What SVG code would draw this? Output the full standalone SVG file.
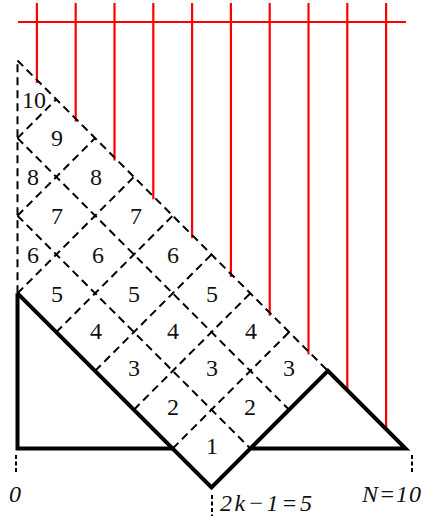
<svg xmlns="http://www.w3.org/2000/svg" width="422" height="516" viewBox="0 0 422 516">
<style>
.red{stroke:#ff0000;stroke-width:2.2;fill:none}
.dash{stroke:#000;stroke-width:2;stroke-dasharray:8 5;fill:none}
.thick{stroke:#000;stroke-width:4;fill:none;stroke-linejoin:miter;stroke-miterlimit:10}
.tick{stroke:#000;stroke-width:2;stroke-dasharray:4 2.5;fill:none}
.num{font-family:"Liberation Serif","DejaVu Serif",serif;font-size:24px;fill:#111;text-anchor:middle}
.it{font-family:"Liberation Serif","DejaVu Serif",serif;font-size:24px;font-style:italic;fill:#111}
</style>
<rect width="422" height="516" fill="#fff"/>
<g id="red-lines">
<line class="red" x1="18" y1="22" x2="406" y2="22"/>
<line class="red" x1="36.9" y1="3" x2="36.9" y2="83"/>
<line class="red" x1="75.7" y1="3" x2="75.7" y2="121.7"/>
<line class="red" x1="114.5" y1="3" x2="114.5" y2="160.5"/>
<line class="red" x1="153.3" y1="3" x2="153.3" y2="199.3"/>
<line class="red" x1="192.1" y1="3" x2="192.1" y2="238.1"/>
<line class="red" x1="230.9" y1="3" x2="230.9" y2="276.9"/>
<line class="red" x1="269.7" y1="3" x2="269.7" y2="315.7"/>
<line class="red" x1="308.5" y1="3" x2="308.5" y2="354.5"/>
<line class="red" x1="347.3" y1="3" x2="347.3" y2="390.5"/>
<line class="red" x1="386.1" y1="3" x2="386.1" y2="429.5"/>
</g>
<g id="lattice">
<line class="dash" x1="17.5" y1="293.3" x2="17.5" y2="60.5"/>
<line class="dash" x1="17.5" y1="60.5" x2="327.9" y2="370.9"/>
<line class="dash" x1="17.5" y1="138.1" x2="289.1" y2="409.7"/>
<line class="dash" x1="17.5" y1="215.7" x2="250.3" y2="448.5"/>
<line class="dash" x1="17.5" y1="138.1" x2="56.3" y2="99.3"/>
<line class="dash" x1="17.5" y1="215.7" x2="95.1" y2="138.1"/>
<line class="dash" x1="17.5" y1="293.3" x2="133.9" y2="176.9"/>
<line class="dash" x1="56.3" y1="332.1" x2="172.7" y2="215.7"/>
<line class="dash" x1="95.1" y1="370.9" x2="211.5" y2="254.5"/>
<line class="dash" x1="133.9" y1="409.7" x2="250.3" y2="293.3"/>
<line class="dash" x1="172.7" y1="448.5" x2="289.1" y2="332.1"/>
</g>
<g id="outline">
<path class="thick" d="M172.7 448.5 L17.5 448.5 L17.5 293.3"/>
<path class="thick" d="M17.5 293.3 L211.5 487.3 L327.9 370.9 L405.5 448.5 L250.3 448.5"/>
</g>
<g id="ticks">
<line class="tick" x1="16" y1="455" x2="16" y2="474"/>
<line class="tick" x1="412" y1="455" x2="412" y2="474"/>
<line class="tick" x1="212" y1="495" x2="212" y2="516"/>
</g>
<g id="cell-labels">
<text class="num" x="34" y="108">10</text>
<text class="num" x="57" y="146">9</text>
<text class="num" x="33" y="185">8</text>
<text class="num" x="96" y="185">8</text>
<text class="num" x="57" y="224">7</text>
<text class="num" x="136" y="224">7</text>
<text class="num" x="33" y="263">6</text>
<text class="num" x="98" y="263">6</text>
<text class="num" x="173" y="263">6</text>
<text class="num" x="57" y="302">5</text>
<text class="num" x="134" y="302">5</text>
<text class="num" x="212" y="302">5</text>
<text class="num" x="96" y="339">4</text>
<text class="num" x="173" y="339">4</text>
<text class="num" x="251" y="339">4</text>
<text class="num" x="134" y="376">3</text>
<text class="num" x="212" y="376">3</text>
<text class="num" x="289" y="376">3</text>
<text class="num" x="173" y="415">2</text>
<text class="num" x="250" y="415">2</text>
<text class="num" x="212" y="454">1</text>
</g>
<g id="axis-labels">
<text class="it" x="15" y="502" text-anchor="middle">0</text>
<text class="it" x="220" y="511" textLength="92" lengthAdjust="spacing">2k−1=5</text>
<text class="it" x="362" y="502" textLength="59" lengthAdjust="spacing">N=10</text>
</g>
</svg>
